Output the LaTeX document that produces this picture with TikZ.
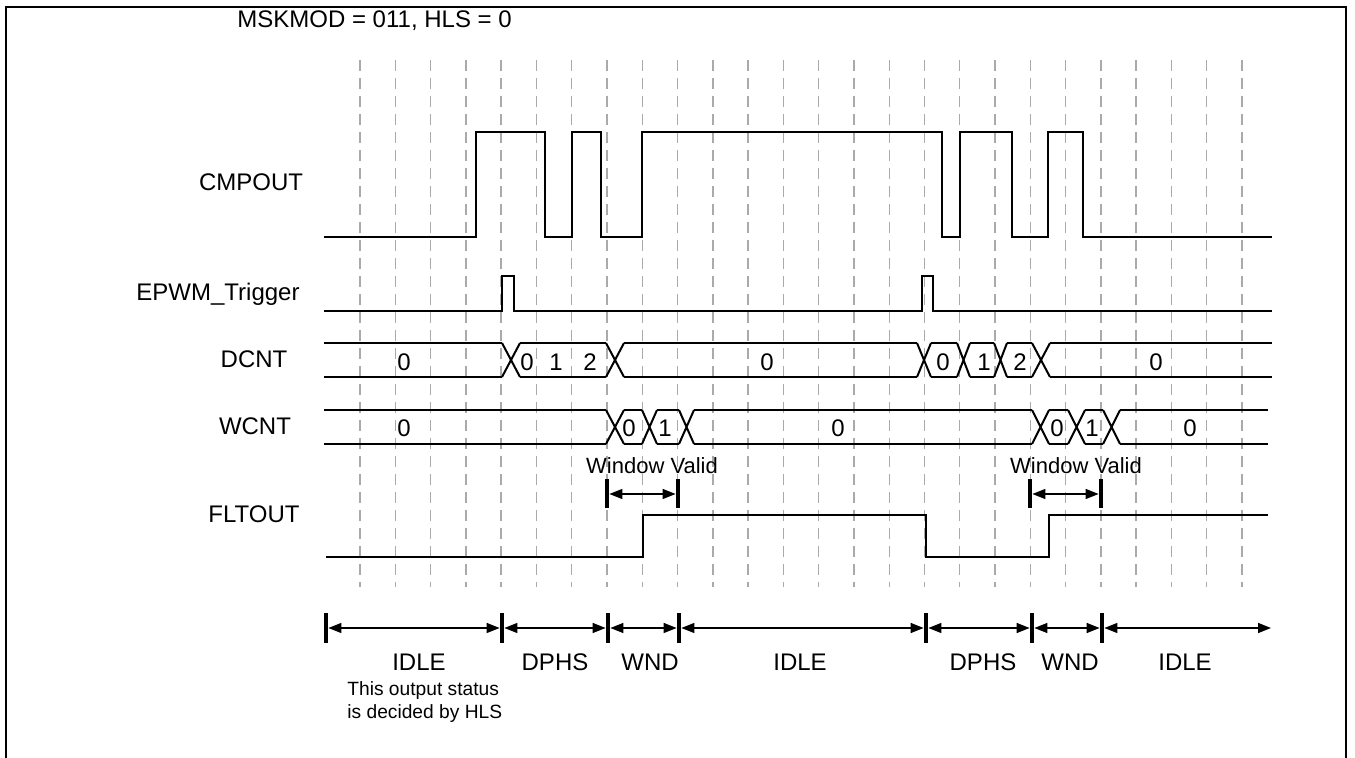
\documentclass[tikz,border=0pt]{standalone}
\usepackage{fontspec}
\setmainfont{Liberation Sans}
\usetikzlibrary{arrows.meta}
\definecolor{gridgray}{RGB}{170,170,170}

\begin{document}
\begin{tikzpicture}[
    x=0.5pt, y=-0.5pt,
    font=\fontsize{12}{14}\selectfont,
    sig/.style={line width=1pt, black},
    gridline/.style={gridgray, line width=0.7pt, dash pattern=on 5.5pt off 3.5pt},
    phasebar/.style={fill=black, inner sep=0pt, minimum width=2pt, minimum height=#1},
    phasebar/.default=15pt,
    span/.style={{Triangle[length=6.5pt,width=5pt]}-{Triangle[length=6.5pt,width=5pt]}, line width=0.75pt},
    lbl/.style={anchor=base, inner sep=0pt}
]
\useasboundingbox (0,0) rectangle (1355,758);
\draw[line width=1pt] (6,758) -- (6,7) -- (1346,7) -- (1346,758);

\node[lbl, anchor=base west] (mode) at (237,28) {MSKMOD = 011, HLS = 0};

% time grid
\foreach \k in {0,...,25}
    \draw[gridline] (360+35.28*\k,60) -- (360+35.28*\k,587);

% signal names
\node[lbl] (cmpout) at (251,191) {CMPOUT};
\node[lbl] (trig) at (218,301) {EPWM\_Trigger};
\node[lbl] (dcnt) at (254,368) {DCNT};
\node[lbl] (wcnt) at (255,435) {WCNT};
\node[lbl] (fltout) at (254,523) {FLTOUT};

% CMPOUT
\draw[sig] (324,237) -| (476,132) -| (545,237) -| (572,132) -| (601,237) -| (642,132)
    -| (942,237) -| (960,132) -| (1012,237) -| (1048,132) -| (1083,237) -- (1272,237);

% EPWM_Trigger
\draw[sig] (324,311) -| (502,276) -| (514,311) -| (922,276) -| (933,311) -- (1272,311);

% DCNT bus
\foreach \a/\b in {324/502, 520/606, 624/917, 931/957, 970/994, 1007/1032, 1050/1272}
    \draw[sig] (\a,343) -- (\b,343) (\a,377) -- (\b,377);
\foreach \a/\b in {502/520, 606/624, 917/931, 957/970, 994/1007, 1032/1050}
    \draw[sig] (\a,343) -- (\b,377) (\a,377) -- (\b,343);
\node[lbl] (d0) at (404,371) {0};
\node[lbl] (d1) at (527,371) {0};
\node[lbl] (d2) at (556,371) {1};
\node[lbl] (d3) at (590,371) {2};
\node[lbl] (d4) at (767,371) {0};
\node[lbl] (d5) at (943,371) {0};
\node[lbl] (d6) at (984,371) {1};
\node[lbl] (d7) at (1020,371) {2};
\node[lbl] (d8) at (1156,371) {0};

% WCNT bus
\foreach \a/\b in {324/606, 624/642, 657/679, 694/1032, 1049/1068, 1085/1103, 1120/1268}
    \draw[sig] (\a,410) -- (\b,410) (\a,444) -- (\b,444);
\foreach \a/\b in {606/624, 642/657, 679/694, 1032/1049, 1068/1085, 1103/1120}
    \draw[sig] (\a,410) -- (\b,444) (\a,444) -- (\b,410);
\node[lbl] (w0) at (404,437) {0};
\node[lbl] (w1) at (629,437) {0};
\node[lbl] (w2) at (665,437) {1};
\node[lbl] (w3) at (838,437) {0};
\node[lbl] (w4) at (1057,437) {0};
\node[lbl] (w5) at (1092,437) {1};
\node[lbl] (w6) at (1190,437) {0};

% window valid
\node[lbl, font=\fontsize{11}{13}\selectfont] (wv1) at (652,474) {Window Valid};
\node[lbl, font=\fontsize{11}{13}\selectfont] (wv2) at (1076,474) {Window Valid};
\node[phasebar=14.5pt] (win1a) at (607,494) {};
\node[phasebar=14.5pt] (win1b) at (678,494) {};
\node[phasebar=14.5pt] (win2a) at (1030,494) {};
\node[phasebar=14.5pt] (win2b) at (1101,494) {};
\draw[span] (win1a) -- (win1b);
\draw[span] (win2a) -- (win2b);

% FLTOUT
\draw[sig] (326,557) -| (643,515) -| (926,557) -| (1049,515) -- (1268,515);

% phases
\node[phasebar] (ph0) at (326,628) {};
\node[phasebar] (ph1) at (502,628) {};
\node[phasebar] (ph2) at (608,628) {};
\node[phasebar] (ph3) at (679,628) {};
\node[phasebar] (ph4) at (926,628) {};
\node[phasebar] (ph5) at (1032,628) {};
\node[phasebar] (ph6) at (1102,628) {};
\coordinate (phend) at (1271,628);
\draw[span] (ph0) -- (ph1);
\draw[span] (ph1) -- (ph2);
\draw[span] (ph2) -- (ph3);
\draw[span] (ph3) -- (ph4);
\draw[span] (ph4) -- (ph5);
\draw[span] (ph5) -- (ph6);
\draw[span] (ph6) -- (phend);

\node[lbl] (idle1) at (419,671) {IDLE};
\node[lbl] (dphs1) at (555,671) {DPHS};
\node[lbl] (wnd1) at (650,671) {WND};
\node[lbl] (idle2) at (800,671) {IDLE};
\node[lbl] (dphs2) at (983,671) {DPHS};
\node[lbl] (wnd2) at (1070,671) {WND};
\node[lbl] (idle3) at (1185,671) {IDLE};
\node[anchor=north west, inner sep=0pt, align=left, font=\fontsize{9.6}{11.65}\selectfont]
    (hlsnote) at (347,681) {This output status\\is decided by HLS};
\end{tikzpicture}
\end{document}
